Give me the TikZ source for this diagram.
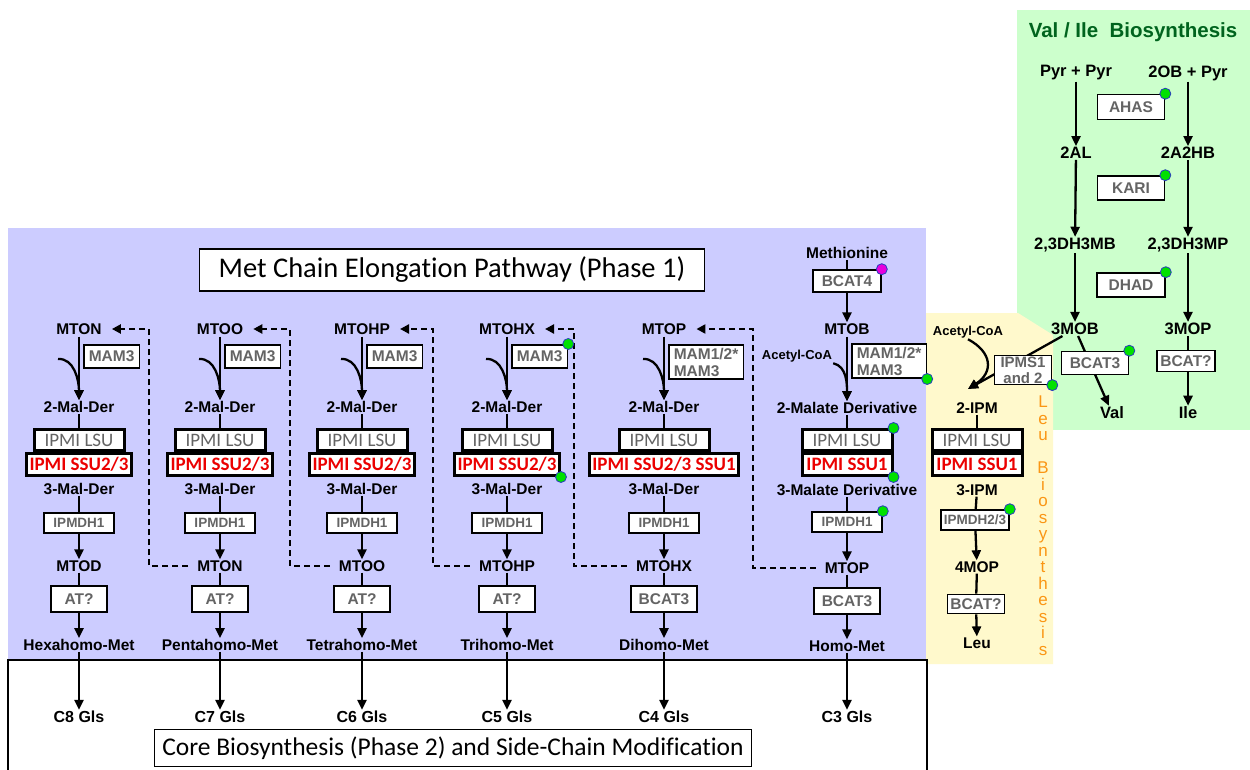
\documentclass[tikz,border=0pt]{standalone}
\usepackage{fontspec}
\setmainfont{Liberation Sans}
\newfontfamily\calfont[Ligatures=NoCommon]{Carlito}
\usetikzlibrary{arrows.meta}
\pgfdeclarelayer{back}
\pgfdeclarelayer{edges}
\pgfsetlayers{back,edges,main}

\definecolor{purplebg}{RGB}{204,204,255}
\definecolor{greenbg}{RGB}{204,255,204}
\definecolor{yellowbg}{RGB}{255,249,204}
\definecolor{boxgray}{RGB}{100,100,100}
\definecolor{titlegreen}{RGB}{0,100,30}
\definecolor{dotgreen}{RGB}{0,225,0}
\definecolor{dotblue}{RGB}{40,60,190}
\definecolor{dotmag}{RGB}{230,0,220}
\definecolor{leuorange}{RGB}{250,150,20}
\definecolor{ipmired}{RGB}{235,0,0}

\tikzset{
 met/.style={font=\bfseries\fontsize{15.5}{17}\selectfont, inner sep=1pt},
 gmet/.style={font=\bfseries\fontsize{16.5}{18}\selectfont, inner sep=1pt},
 small/.style={font=\bfseries\fontsize{13}{15}\selectfont, inner sep=1pt},
 enz/.style={draw=black, line width=1.6pt, fill=white, text=boxgray, font=\bfseries\fontsize{15.5}{17}\selectfont, inner xsep=5pt, inner ysep=2pt, minimum height=23pt},
 atbox/.style={enz, inner xsep=8pt, minimum width=56pt, minimum height=26pt},
 dhbox/.style={enz, font=\bfseries\fontsize{13.5}{15}\selectfont, minimum width=70pt, minimum height=20pt},
 lsu/.style={draw=black, line width=3pt, fill=white, text=boxgray, font=\calfont\fontsize{19}{21}\selectfont, inner sep=1pt, minimum height=21pt, minimum width=90pt},
 ssu/.style={draw=black, line width=3pt, fill=white, text=ipmired, font=\calfont\bfseries\fontsize{19}{21}\selectfont, inner xsep=3pt, inner ysep=1pt, minimum height=22pt},
 dot/.style={circle, fill=dotgreen, draw=dotblue, line width=0.8pt, minimum size=11pt, inner sep=0pt},
 arr/.style={line width=2.3pt, -{Triangle[length=10pt,width=9pt]}},
 ln/.style={line width=2.3pt},
 dline/.style={line width=2.4pt, dash pattern=on 6pt off 4pt, -{Triangle[length=9pt,width=9pt]}, shorten >=9pt, shorten <=8pt},
 gls/.style={font=\bfseries\fontsize{16}{18}\selectfont, inner sep=1pt}
}

% #1 prefix #2 x #3 top #4 MAM text #5 SSU text #6 product #7 AT enzyme #8 final #9 Gls
\newcommand\chaincol[9]{%
 \node[met] (#1t) at (#2,329) {#3};
 \node[enz, anchor=north west, align=left, inner ysep=3pt] (#1mam) at (#2+4,344) {#4};
 \node[met] (#1m) at (#2,407) {2-Mal-Der};
 \node[lsu] (#1lsu) at (#2,440) {IPMI LSU};
 \node[ssu, anchor=north] (#1ssu) at (#1lsu.south) {#5};
 \node[met] (#1n) at (#2,489) {3-Mal-Der};
 \node[dhbox] (#1dh) at (#2,523) {IPMDH1};
 \node[met] (#1p) at (#2,566) {#6};
 \node[atbox] (#1at) at (#2,599) {#7};
 \node[met] (#1f) at (#2,645) {#8};
 \node[gls] (#1g) at (#2,717) {#9};
 \coordinate (#1c) at (#2-21,359);
 \begin{pgfonlayer}{edges}
 \draw[arr, shorten <=1pt] (#1t) -- (#1m);
 \draw[arr] (#1c) .. controls +(16,-1) and +(0,-20) .. (#1m.north);
 \draw[ln] (#1m) -- (#1lsu);
 \draw[ln] (#1n) -- (#1dh);
 \draw[arr] (#1dh) -- (#1p);
 \draw[ln] (#1p) -- (#1at);
 \draw[arr] (#1at) -- (#1f);
 \draw[arr] (#1f) -- (#1g);
 \end{pgfonlayer}
}

\begin{document}
\begin{tikzpicture}[x=1pt,y=-1pt]
\useasboundingbox (0,0) rectangle (1250,770);
\begin{pgfonlayer}{back}
\fill[white] (0,0) rectangle (1250,770);
\fill[purplebg] (8,228) rectangle (926,660);
\fill[greenbg] (1017,10) rectangle (1250,430);
\fill[yellowbg] (926,313) -- (1018,313) -- (1053,335) -- (1053,664) -- (926,664) -- cycle;
\draw[line width=1.3pt] (8,775) -- (8,660) -- (927,660) -- (927,775);
\end{pgfonlayer}

% titles
\node[draw, line width=1.5pt, fill=white, font=\calfont\fontsize{28.5}{30}\selectfont, minimum width=505pt, minimum height=42pt, inner sep=0pt] (title) at (452,270) {Met Chain Elongation Pathway (Phase 1)};
\node[draw, line width=1.5pt, fill=white, font=\calfont\fontsize{25.5}{28}\selectfont, minimum width=597pt, minimum height=37pt, inner sep=0pt] (core) at (453,748) {Core Biosynthesis (Phase 2) and Side-Chain Modification};

% chain columns
\chaincol{c1}{79}{MTON}{MAM3}{IPMI SSU2/3}{MTOD}{AT?}{Hexahomo-Met}{C8 Gls}
\chaincol{c2}{220}{MTOO}{MAM3}{IPMI SSU2/3}{MTON}{AT?}{Pentahomo-Met}{C7 Gls}
\chaincol{c3}{362}{MTOHP}{MAM3}{IPMI SSU2/3}{MTOO}{AT?}{Tetrahomo-Met}{C6 Gls}
\chaincol{c4}{507}{MTOHX}{MAM3}{IPMI SSU2/3}{MTOHP}{AT?}{Trihomo-Met}{C5 Gls}
\chaincol{c5}{664}{MTOP}{MAM1/2*\\MAM3}{IPMI SSU2/3 SSU1}{MTOHX}{BCAT3}{Dihomo-Met}{C4 Gls}

% column 6
\node[met] (meth) at (847,253) {Methionine};
\node[enz, minimum width=68pt, minimum height=22pt] (bcat4) at (847,281) {BCAT4};
\node[met] (c6t) at (847,329) {MTOB};
\node[enz, anchor=north west, align=left, inner ysep=3pt] (c6mam) at (851,343) {MAM1/2*\\MAM3};
\node[small] (c6acoa) at (797,356) {Acetyl-CoA};
\node[met] (c6m) at (847,408) {2-Malate Derivative};
\node[lsu] (c6lsu) at (847,440) {IPMI LSU};
\node[ssu, anchor=north, minimum width=90pt] (c6ssu) at (c6lsu.south) {IPMI SSU1};
\node[met] (c6n) at (847,490) {3-Malate Derivative};
\node[dhbox] (c6dh) at (847,522) {IPMDH1};
\node[met] (c6p) at (847,568) {MTOP};
\node[atbox] (c6at) at (847,601) {BCAT3};
\node[met] (c6f) at (847,646) {Homo-Met};
\node[gls] (c6g) at (847,717) {C3 Gls};

\node[dot, fill=dotmag] at (bcat4.north east) {};
\node[dot] at (c6mam.south east) {};
\node[dot] at (c6lsu.north east) {};
\node[dot] at (c6ssu.south east) {};
\node[dot] at (c6dh.north east) {};
\node[dot] at (c4mam.north east) {};
\node[dot] at (c4ssu.south east) {};

% dashed x positions
\coordinate (d1) at (149,0);
\coordinate (d2) at (290,0);
\coordinate (d3) at (433,0);
\coordinate (d4) at (574,0);
\coordinate (d5) at (753,0);

% Leu column
\node[small] (lacoa) at (968,332) {Acetyl-CoA};
\node[enz, align=center, inner ysep=1pt, minimum width=57pt, font=\bfseries\fontsize{15}{16}\selectfont] (ipms) at (1023,370) {IPMS1\\and 2};
\coordinate (ltip) at (968,389);
\node[met] (ipm2) at (977,408) {2-IPM};
\node[lsu] (llsu) at (977,440) {IPMI LSU};
\node[ssu, anchor=north, minimum width=90pt] (lssu) at (llsu.south) {IPMI SSU1};
\node[met] (ipm3) at (977,490) {3-IPM};
\node[dhbox, inner xsep=2pt, minimum width=68pt] (ldh) at (975,520) {IPMDH2/3};
\node[met] (mop4) at (977,567) {4MOP};
\node[enz, minimum height=19pt, inner xsep=3pt] (lbcat) at (976,604) {BCAT?};
\node[met] (leu) at (977,643) {Leu};
\node[dot] at (ipms.south east) {};
\node[dot] at (ldh.north east) {};
\node[text=leuorange, font=\fontsize{17}{16.5}\selectfont, align=center, anchor=north, inner sep=0pt] (leutxt) at (1043,396) {L\\e\\u\\~\\B\\i\\o\\s\\y\\n\\t\\h\\e\\s\\i\\s};

% Val / Ile
\node[font=\bfseries\fontsize{20.5}{22}\selectfont, text=titlegreen] (vtitle) at (1133,32) {Val / Ile\ \ Biosynthesis};
\node[gmet] (pp) at (1076,73) {Pyr + Pyr};
\node[gmet] (op) at (1188,73) {2OB + Pyr};
\node[enz, minimum width=67pt, minimum height=25pt] (ahas) at (1131,107) {AHAS};
\node[gmet] (al) at (1076,153) {2AL};
\node[gmet] (ahb) at (1188,153) {2A2HB};
\node[enz, minimum width=67pt, minimum height=24pt] (kari) at (1131,188) {KARI};
\node[gmet] (dmb) at (1075,245) {2,3DH3MB};
\node[gmet] (dmp) at (1188,245) {2,3DH3MP};
\node[enz, minimum width=68pt, minimum height=24pt] (dhad) at (1131,285) {DHAD};
\node[gmet] (mob) at (1075,329) {3MOB};
\node[gmet] (mop) at (1188,329) {3MOP};
\node[enz, minimum width=67pt, minimum height=23pt] (vbcat) at (1095,363) {BCAT3};
\node[enz, minimum width=58pt, minimum height=21pt, inner xsep=2pt] (ibcat) at (1186,361) {BCAT?};
\node[gmet] (val) at (1112,413) {Val};
\node[gmet] (ile) at (1188,413) {Ile};
\node[dot] at (ahas.north east) {};
\node[dot] at (kari.north east) {};
\node[dot] at (dhad.north east) {};
\node[dot] at (vbcat.north east) {};

\begin{pgfonlayer}{edges}
% column 6 connectors
\draw[ln] (meth) -- (bcat4);
\draw[arr] (bcat4) -- (c6t);
\draw[arr, shorten <=1pt] (c6t) -- (c6m);
\draw[arr] (c6acoa.south east) .. controls +(14,3) and +(0,-16) .. (c6m.north);
\draw[ln] (c6m) -- (c6lsu);
\draw[ln] (c6n) -- (c6dh);
\draw[arr] (c6dh) -- (c6p);
\draw[ln] (c6p) -- (c6at);
\draw[arr] (c6at) -- (c6f);
\draw[arr] (c6f) -- (c6g);
% dashed feedback
\draw[dline] (c2p.west) -- (c2p.west -| d1) |- (c1t.east);
\draw[dline] (c3p.west) -- (c3p.west -| d2) |- (c2t.east);
\draw[dline] (c4p.west) -- (c4p.west -| d3) |- (c3t.east);
\draw[dline] (c5p.west) -- (c5p.west -| d4) |- (c4t.east);
\draw[dline] (c6p.west) -- (c6p.west -| d5) |- (c5t.east);
% Leu
\draw[arr] (lacoa.south) .. controls (992,352) and (994,372) .. (ltip);
\draw[arr] (mob) -- (ltip);
\draw[ln] (ipm2) -- (llsu);
\draw[ln] (ipm3) -- (ldh);
\draw[arr] (ldh) -- (mop4);
\draw[ln] (mop4) -- (lbcat);
\draw[arr] (lbcat) -- (leu);
% Val / Ile
\draw[arr] (pp) -- (al);
\draw[arr] (op) -- (ahb);
\draw[arr] (al) -- (dmb);
\draw[arr] (ahb) -- (dmp);
\draw[arr] (dmb) -- (mob);
\draw[arr] (dmp) -- (mop);
\draw[arr] (mob) -- (val);
\draw[arr] (mop) -- (ile);
\end{pgfonlayer}
\end{tikzpicture}
\end{document}
